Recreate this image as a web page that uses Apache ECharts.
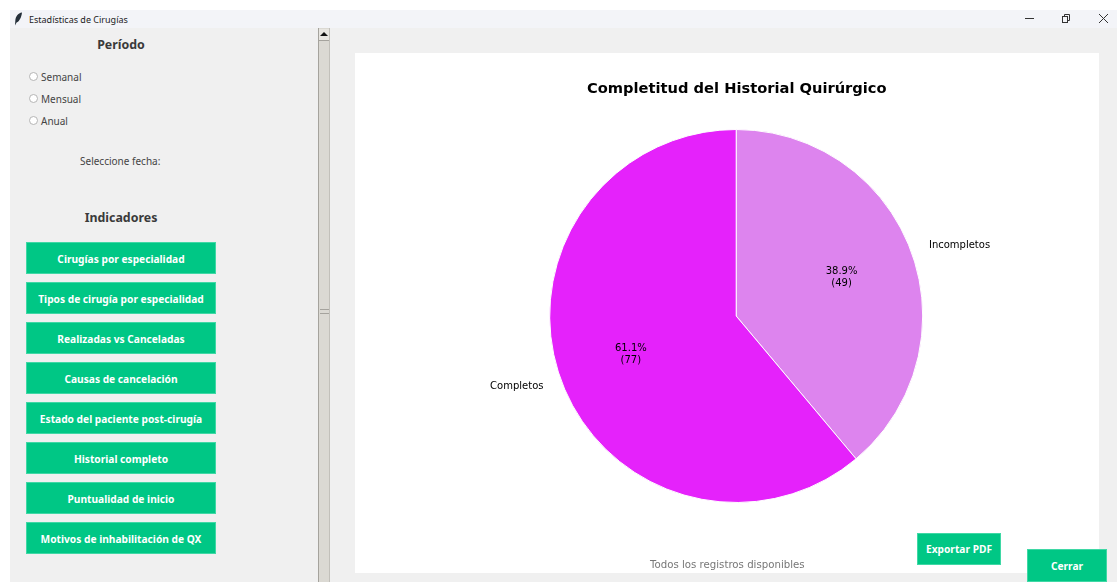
<!DOCTYPE html>
<html lang="es">
<head>
<meta charset="utf-8">
<title>Estadísticas de Cirugías</title>
<script src="https://cdn.jsdelivr.net/npm/echarts@6/dist/echarts.min.js"></script>
<style>
  html, body { margin: 0; padding: 0; width: 1117px; height: 582px; overflow: hidden; background: #fff; }
  body { font-family: "Noto Sans", sans-serif; color: #333; position: relative; }
  .abs { position: absolute; }
  #app { left: 10px; top: 10px; width: 1107px; height: 572px; background: #f0f0f0; }
  #titlebar { left: 10px; top: 10px; width: 1107px; height: 18px; background: #f3f4f8; }
  #wintitle { left: 29px; top: 13px; font-size: 9px; line-height: 14px; color: #222; }
  .heading { font-weight: 700; font-size: 12.4px; line-height: 18px; color: #3a3a3a; text-align: center; width: 200px; }
  .radio { left: 29px; width: 7px; height: 7px; border: 1px solid #b5b5b5; border-radius: 50%; background: #fff; }
  .radiotext { left: 41px; font-size: 10px; line-height: 14px; color: #444; }
  .btn { background: #00c785; border: 1px solid #3fd8a5; box-sizing: border-box; padding-top: 1px; color: #fff; font-weight: 700; font-size: 10.2px; display: flex; align-items: center; justify-content: center; white-space: nowrap; }
  #scroll { left: 318px; top: 28px; width: 12px; height: 554px; background: #dbd9d3; border-left: 1px solid #a5a39d; border-right: 1px solid #c2c0ba; box-sizing: border-box; }
  #scrollup { left: 319px; top: 29px; width: 10px; height: 12px; background: #e8e6e1; border-bottom: 1px solid #a5a39d; box-sizing: border-box; }
  #arrow { left: 320px; top: 32px; width: 0; height: 0; border-left: 4px solid transparent; border-right: 4px solid transparent; border-bottom: 4px solid #111; }
  #grip { left: 320px; top: 309px; width: 9px; height: 5px; border-top: 1px solid #a5a39d; border-bottom: 1px solid #a5a39d; box-sizing: border-box; }
  #chart { left: 355px; top: 53px; width: 744px; height: 520px; background: #fff; }
</style>
</head>
<body>
<div id="app" class="abs"></div>
<div id="titlebar" class="abs"></div>
<svg class="abs" style="left:14px;top:12px" width="9" height="14" viewBox="0 0 9 14"><path d="M8 0.5C4 1 1.5 4.5 1.3 9L1 13.5L2.6 10.5C5.5 9.5 7.5 5 8 0.5Z" fill="#25303a"/></svg>
<div id="wintitle" class="abs">Estadísticas de Cirugías</div>
<svg class="abs" style="left:1020px;top:12px" width="97" height="14" viewBox="0 0 97 14" fill="none" stroke="#333" stroke-width="1">
  <path d="M5 6.5H14"/>
  <rect x="42.5" y="4.5" width="5" height="6"/><path d="M44.5 4.5V2.5H49.5V8.5H47.5"/>
  <path d="M79 2L88 11M88 2L79 11"/>
</svg>

<div class="abs heading" style="left:21px;top:36px">Período</div>
<div id="radios"></div>
<div class="abs" style="left:80px;top:154px;font-size:10px;line-height:14px;color:#444">Seleccione fecha:</div>
<div class="abs heading" style="left:21px;top:209px">Indicadores</div>
<div id="buttons"></div>

<div id="scroll" class="abs"></div>
<div id="scrollup" class="abs"></div>
<div id="arrow" class="abs"></div>
<div id="grip" class="abs"></div>

<div id="chart" class="abs"></div>
<div class="abs btn" style="left:917px;top:533px;width:84px;height:32px;padding-top:0">Exportar PDF</div>
<div class="abs btn" style="left:1027px;top:549px;width:80px;height:33px">Cerrar</div>

<script>
// Side panel entries
const periodOptions = ['Semanal', 'Mensual', 'Anual'];
const indicatorButtons = [
  'Cirugías por especialidad',
  'Tipos de cirugía por especialidad',
  'Realizadas vs Canceladas',
  'Causas de cancelación',
  'Estado del paciente post-cirugía',
  'Historial completo',
  'Puntualidad de inicio',
  'Motivos de inhabilitación de QX'
];

// Surgical record completeness
const categories = ['Incompletos', 'Completos'];
const counts = [49, 77];
const sliceColors = ['#dd84ee', '#e522fb'];
const chartTitle = 'Completitud del Historial Quirúrgico';
const chartFooter = 'Todos los registros disponibles';

const radios = document.getElementById('radios');
periodOptions.forEach((name, i) => {
  const y = 72 + i * 22;
  radios.insertAdjacentHTML('beforeend',
    `<div class="abs radio" style="top:${y}px"></div>` +
    `<div class="abs radiotext" style="top:${y - 2}px">${name}</div>`);
});

const buttons = document.getElementById('buttons');
indicatorButtons.forEach((name, i) => {
  buttons.insertAdjacentHTML('beforeend',
    `<div class="abs btn" style="left:26px;top:${242 + i * 40}px;width:190px;height:32px">${name}</div>`);
});

const pieData = categories.map((name, i) => ({
  name, value: counts[i], itemStyle: { color: sliceColors[i] }
}));

const chart = echarts.init(document.getElementById('chart'), null, { renderer: 'canvas' });
const pieCenter = [381.2, 263];
const pieRadius = 186.5;
const fontFamily = '"DejaVu Sans", sans-serif';

chart.setOption({
  animation: false,
  backgroundColor: '#ffffff',
  title: [
    { text: chartTitle, left: 227, top: 24,
      textStyle: { fontFamily, fontSize: 14.66, fontWeight: 'bold', color: '#000' } },
    { text: chartFooter, left: 290, top: 502,
      textStyle: { fontFamily, fontSize: 10.2, fontWeight: 'normal', color: '#777' } }
  ],
  series: [
    {
      // Wedges with the category names outside
      type: 'pie',
      center: pieCenter,
      radius: pieRadius,
      startAngle: 90,
      clockwise: true,
      avoidLabelOverlap: false,
      silent: true,
      percentPrecision: 1,
      data: pieData,
      itemStyle: { borderColor: '#fff', borderWidth: 1 },
      label: { show: true, position: 'outside', formatter: '{b}', distanceToLabelLine: 0,
        fontFamily, fontSize: 10, color: '#000' },
      labelLine: { show: false, length: 18.6, length2: 0 }
    },
    {
      // Unfilled ring whose mid-radius carries the percentage labels
      type: 'pie',
      center: pieCenter,
      radius: [pieRadius * 0.17, pieRadius],
      startAngle: 90,
      clockwise: true,
      avoidLabelOverlap: false,
      silent: true,
      percentPrecision: 1,
      data: categories.map((name, i) => ({ name, value: counts[i] })),
      itemStyle: { color: 'rgba(0,0,0,0)' },
      label: { show: true, position: 'inside', formatter: '{d}%\n({c})', align: 'center',
        fontFamily, fontSize: 10, lineHeight: 12, color: '#000' },
      labelLine: { show: false }
    }
  ]
});
</script>
</body>
</html>
